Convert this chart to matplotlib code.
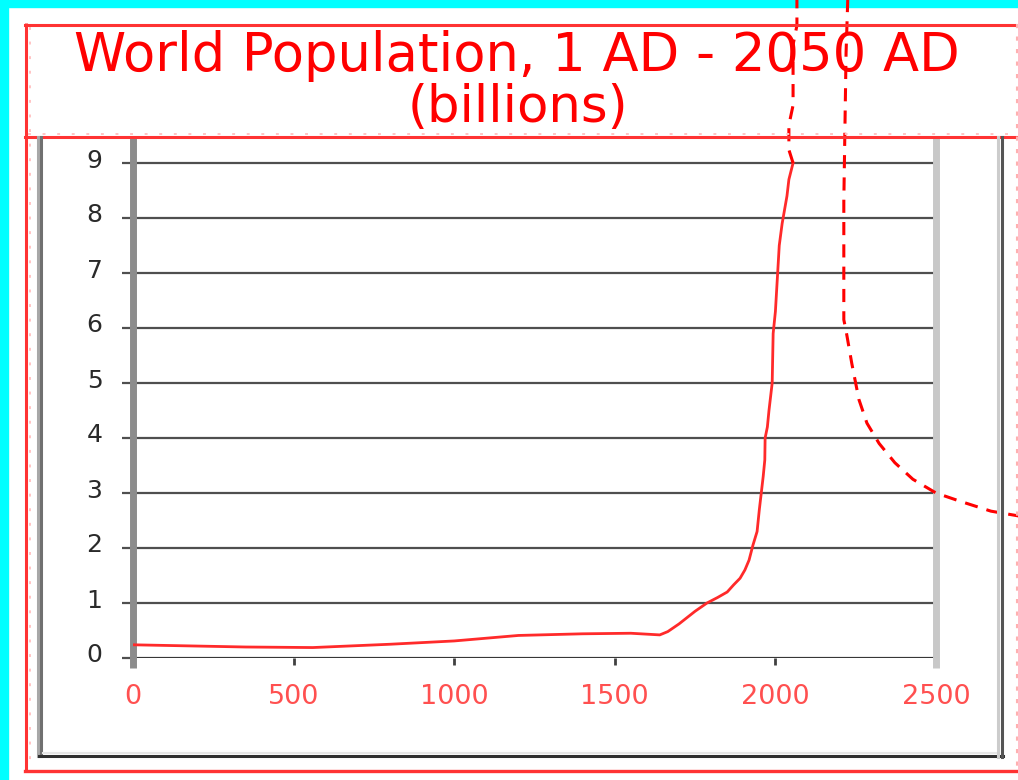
import matplotlib
matplotlib.use("Agg")
import matplotlib.pyplot as plt
from matplotlib.lines import Line2D
from matplotlib.patches import Rectangle
from matplotlib.transforms import ScaledTranslation

# World population estimates (billions)
years = [0, 350, 560, 800, 1000, 1200, 1400, 1550, 1640, 1665, 1700, 1750,
         1787, 1820, 1850, 1870, 1890, 1905, 1918, 1930, 1943, 1950, 1955,
         1962, 1967, 1968, 1975, 1980, 1990, 1993, 2000, 2005, 2012, 2021,
         2036, 2042, 2055]
population = [0.24, 0.20, 0.19, 0.25, 0.31, 0.41, 0.44, 0.45, 0.42, 0.48,
              0.62, 0.85, 1.00, 1.10, 1.20, 1.33, 1.45, 1.60, 1.78, 2.05,
              2.30, 2.70, 2.95, 3.30, 3.60, 4.00, 4.20, 4.50, 5.00, 5.90,
              6.30, 6.80, 7.50, 7.90, 8.40, 8.70, 9.00]

# Continuation of the series beyond the top of the scale
ext_years = [2055, 2042, 2042, 2055, 2055, 2067, 2067]
ext_population = [9.00, 9.24, 9.69, 10.05, 11.15, 11.50, 12.10]

# Projection curve
proj_years = [2226, 2220, 2213, 2213, 2220, 2238, 2260, 2285, 2323, 2372,
              2428, 2500, 2575, 2671, 2760]
proj_population = [12.10, 11.00, 8.30, 6.15, 5.95, 5.35, 4.70, 4.27, 3.90,
                   3.55, 3.25, 3.00, 2.85, 2.67, 2.58]

x_ticks = [0, 500, 1000, 1500, 2000, 2500]
y_ticks = list(range(10))
title_line1 = "World Population, 1 AD - 2050 AD"
title_line2 = "(billions)"

W, H = 1018, 780
fig = plt.figure(figsize=(W / 100, H / 100), dpi=100)
fig.patch.set_facecolor("white")


def fx(px):
    return px / W


def fy(py):
    return 1 - py / H


def fline(xs, ys, **kw):
    fig.add_artist(Line2D([fx(x) for x in xs], [fy(y) for y in ys],
                          transform=fig.transFigure, **kw))


# Page background bands
fig.add_artist(Rectangle((0, fy(7)), 1, 7 / H, transform=fig.transFigure,
                         color="#00ffff", zorder=0))
fig.add_artist(Rectangle((0, 0), 8 / W, 1, transform=fig.transFigure,
                         color="#00ffff", zorder=0))

# Chart border and title box
red = "#ff3333"
fline([26, 26], [23, 772], color=red, lw=2.2, solid_capstyle="butt")
fline([25, 1018], [24.5, 24.5], color=red, lw=2.2)
fline([25, 1018], [137, 137], color=red, lw=2.2)
fline([25, 1018], [771, 771], color=red, lw=2.4)
fline([1016.5, 1016.5], [24, 772], color="#ffb0b0", lw=1.5, ls=(0, (2, 4)))
fline([30, 30], [27, 769], color="#ffc4c4", lw=1.4, ls=(0, (1.5, 6)))
fline([28, 1014], [134, 134], color="#ffc4c4", lw=1.4, ls=(0, (1.5, 6)))

# Plot-area frame
fline([37.5, 37.5], [137, 756], color="#a8a8a8", lw=2.2)
fline([41, 41], [137, 756], color="#707070", lw=2.2)
fline([43, 996], [752.5, 752.5], color="#e6e6e6", lw=1.5)
fline([39, 1003], [755.5, 755.5], color="#303030", lw=2.2)
fline([997.5, 997.5], [137, 757], color="#cccccc", lw=2.2)
fline([1001.5, 1001.5], [137, 757], color="#555555", lw=2.2)

# Axes
ax = fig.add_axes([fx(133), fy(658), 803 / W, 521 / H])
ytop = 521 / 55
ax.set_xlim(0, 2500)
ax.set_ylim(0, ytop)
ax.set_facecolor("white")
for s in ax.spines.values():
    s.set_visible(False)

ax.set_yticks(y_ticks)
ax.set_yticklabels([str(v) for v in y_ticks])
ax.set_xticks(x_ticks)
ax.set_xticklabels([str(v) for v in x_ticks])
ax.yaxis.grid(True, color="#4f4f4f", lw=1.6)
ax.xaxis.grid(False)
ax.set_axisbelow(True)
ax.axhline(0, color="#303030", lw=1.8, zorder=1.5)

ax.tick_params(axis="y", length=8, width=1.6, color="#4f4f4f", pad=14,
               labelsize=18, labelcolor="#2a2a2a")
ax.tick_params(axis="x", length=5, width=2, color="#404040", pad=14,
               labelsize=19.5, labelcolor="#ff5050")
shift = ScaledTranslation(0, 5 / 100, fig.dpi_scale_trans)
for lab in ax.get_yticklabels():
    lab.set_transform(lab.get_transform() + shift)

# Thick vertical boundary lines
ax.plot([0, 0], [-0.18, ytop], color="#8c8c8c", lw=5, clip_on=False,
        solid_capstyle="butt", zorder=2)
ax.plot([2500, 2500], [-0.18, ytop], color="#c8c8c8", lw=5, clip_on=False,
        solid_capstyle="butt", zorder=2)

# Data
ax.plot(years, population, color="#ff2a2a", lw=2, zorder=4)
ax.plot(ext_years, ext_population, color="#ff0000", lw=2.2,
        ls=(0, (4.3, 3)), clip_on=False, zorder=6)
ax.plot(proj_years, proj_population, color="#ff0000", lw=2.2,
        ls=(0, (4.3, 3)), clip_on=False, zorder=6)

# Title
fig.text(fx(517), fy(71), title_line1, ha="center", va="baseline",
         fontsize=38, color="#ff0000", family="DejaVu Sans")
fig.text(fx(518), fy(122), title_line2, ha="center", va="baseline",
         fontsize=37, color="#ff0000", family="DejaVu Sans")

fig.savefig("out.png", dpi=100, facecolor="white")
